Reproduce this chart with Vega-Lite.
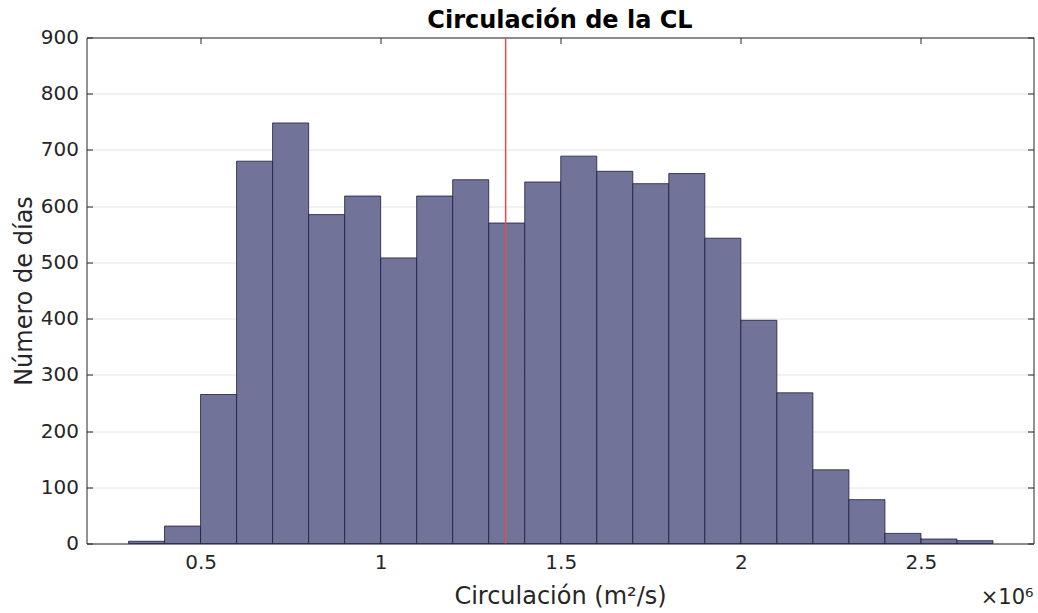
{
  "$schema": "https://vega.github.io/schema/vega-lite/v6.json",
  "width": 947,
  "height": 506,
  "autosize": {"type": "none"},
  "padding": {"left": 86.5, "top": 37.5, "right": 4.5, "bottom": 69.5},
  "background": "white",
  "config": {
    "font": "DejaVu Sans",
    "view": {"stroke": null},
    "axis": {
      "domainColor": "#262626",
      "tickColor": "#262626",
      "labelColor": "#262626",
      "titleColor": "#262626",
      "labelFont": "DejaVu Sans",
      "titleFont": "DejaVu Sans",
      "titleFontWeight": "normal",
      "labelFontSize": 20,
      "titleFontSize": 24,
      "gridColor": "#e2e2e2",
      "tickSize": -6,
      "domainWidth": 1,
      "tickWidth": 1
    }
  },
  "title": {
    "text": "Circulación de la CL",
    "font": "DejaVu Sans",
    "fontSize": 24,
    "fontWeight": "bold",
    "color": "#000000",
    "anchor": "middle",
    "offset": -5
  },
  "datasets": {
    "bins": [
      {"bin_start": 300000, "bin_end": 400000, "count": 4},
      {"bin_start": 400000, "bin_end": 500000, "count": 31},
      {"bin_start": 500000, "bin_end": 600000, "count": 265},
      {"bin_start": 600000, "bin_end": 700000, "count": 680},
      {"bin_start": 700000, "bin_end": 800000, "count": 748},
      {"bin_start": 800000, "bin_end": 900000, "count": 585},
      {"bin_start": 900000, "bin_end": 1000000, "count": 618},
      {"bin_start": 1000000, "bin_end": 1100000, "count": 508},
      {"bin_start": 1100000, "bin_end": 1200000, "count": 618},
      {"bin_start": 1200000, "bin_end": 1300000, "count": 647},
      {"bin_start": 1300000, "bin_end": 1400000, "count": 570},
      {"bin_start": 1400000, "bin_end": 1500000, "count": 643},
      {"bin_start": 1500000, "bin_end": 1600000, "count": 689},
      {"bin_start": 1600000, "bin_end": 1700000, "count": 662},
      {"bin_start": 1700000, "bin_end": 1800000, "count": 640},
      {"bin_start": 1800000, "bin_end": 1900000, "count": 658},
      {"bin_start": 1900000, "bin_end": 2000000, "count": 543},
      {"bin_start": 2000000, "bin_end": 2100000, "count": 397},
      {"bin_start": 2100000, "bin_end": 2200000, "count": 268},
      {"bin_start": 2200000, "bin_end": 2300000, "count": 131},
      {"bin_start": 2300000, "bin_end": 2400000, "count": 78},
      {"bin_start": 2400000, "bin_end": 2500000, "count": 18},
      {"bin_start": 2500000, "bin_end": 2600000, "count": 8},
      {"bin_start": 2600000, "bin_end": 2700000, "count": 5}
    ],
    "mean": [{"circulacion": 1347000}],
    "note": [{"label": "×10⁶", "x": 2812500, "y": 0}]
  },
  "resolve": {"axis": {"x": "independent", "y": "independent"}},
  "layer": [
    {
      "data": {"name": "bins"},
      "mark": {"type": "rect", "fill": "#727399", "stroke": "#1c1c3c", "strokeWidth": 0.8},
      "encoding": {
        "x": {
          "field": "bin_start",
          "type": "quantitative",
          "scale": {"domain": [183300, 2812500], "nice": false, "zero": false},
          "axis": {
            "orient": "bottom",
            "values": [500000, 1000000, 1500000, 2000000, 2500000],
            "labelExpr": "format(datum.value / 1000000, '~g')",
            "title": "Circulación (m²/s)",
            "titlePadding": 12,
            "labelPadding": 15,
            "grid": false
          }
        },
        "x2": {"field": "bin_end"},
        "y": {
          "field": "count",
          "type": "quantitative",
          "scale": {"domain": [0, 900], "nice": false},
          "axis": {
            "orient": "left",
            "values": [0, 100, 200, 300, 400, 500, 600, 700, 800, 900],
            "title": "Número de días",
            "titlePadding": 4,
            "labelPadding": 14,
            "grid": true
          }
        },
        "y2": {"datum": 0}
      }
    },
    {
      "data": {"name": "mean"},
      "mark": {"type": "rule", "color": "#e04f4f", "strokeWidth": 1.5},
      "encoding": {
        "x": {
          "field": "circulacion",
          "type": "quantitative",
          "axis": {
            "orient": "top",
            "values": [500000, 1000000, 1500000, 2000000, 2500000],
            "labels": false,
            "title": null,
            "grid": false
          }
        },
        "y": {
          "datum": 0,
          "type": "quantitative",
          "axis": {
            "orient": "right",
            "values": [0, 100, 200, 300, 400, 500, 600, 700, 800, 900],
            "labels": false,
            "title": null,
            "grid": false
          }
        },
        "y2": {"datum": 900}
      }
    },
    {
      "data": {"name": "note"},
      "mark": {"type": "text", "align": "right", "baseline": "middle", "fontSize": 21, "color": "#262626", "dy": 54},
      "encoding": {
        "x": {"field": "x", "type": "quantitative", "axis": null},
        "y": {"field": "y", "type": "quantitative", "axis": null},
        "text": {"field": "label"}
      }
    }
  ]
}
